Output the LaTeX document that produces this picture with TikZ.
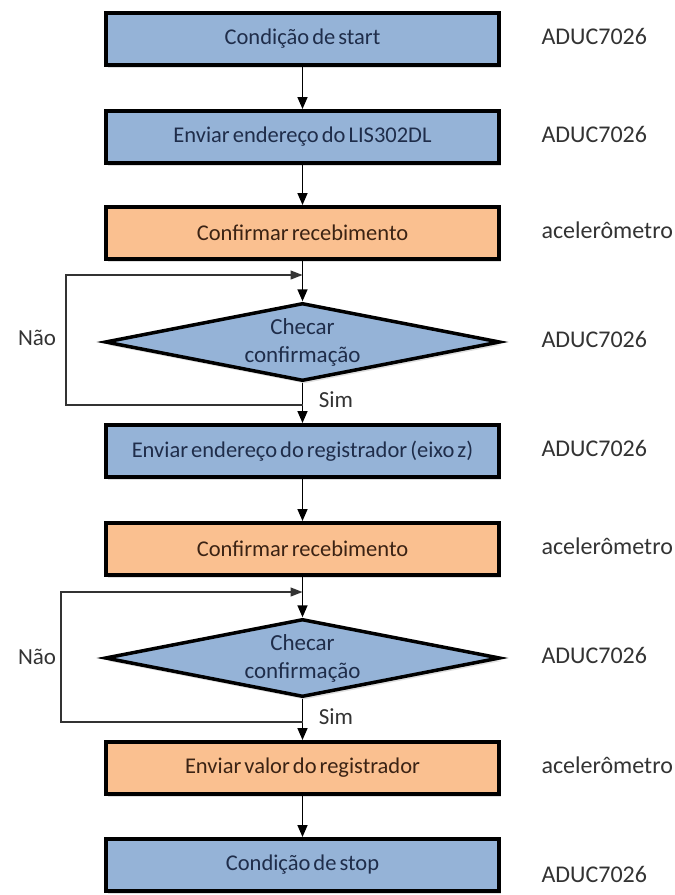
\documentclass[tikz,border=0pt]{standalone}
\usepackage{fontspec}
\setmainfont{Carlito}[WordSpace=0.6]
\usetikzlibrary{shapes.geometric,arrows.meta,shadows}

\definecolor{boxblue}{HTML}{95B3D7}
\definecolor{boxorange}{HTML}{FAC090}
\definecolor{txtblue}{HTML}{1F2D4A}
\definecolor{txtbrown}{HTML}{3B2314}

\tikzset{
  stepbase/.style = {draw=black, line width=4pt, inner sep=0pt,
                     minimum width=393pt, minimum height=52pt,
                     font=\fontsize{22.5}{27}\selectfont,
                     drop shadow={shadow xshift=2pt, shadow yshift=-3pt, opacity=0.25}},
  mcu/.style      = {stepbase, fill=boxblue, text=txtblue},
  accel/.style    = {stepbase, fill=boxorange, text=txtbrown},
  check/.style    = {stepbase, shape=diamond, aspect=5, fill=boxblue, text=txtblue,
                     align=center, line width=3.5pt, font=\fontsize{23}{28}\selectfont,
                     minimum width=395pt, minimum height=78pt},
  who/.style      = {anchor=west, font=\fontsize{24}{28}\selectfont, text=black!80},
  answer/.style   = {font=\fontsize{23}{27}\selectfont, text=black!80},
  flow/.style     = {draw, line width=1.6pt, -{Triangle[length=12pt,width=10pt]}},
  back/.style     = {draw, line width=1.3pt, black!80, -{Triangle[length=12pt,width=9pt]}}
}

\begin{document}
\begin{tikzpicture}[x=1pt,y=-1pt]
\useasboundingbox (0,0) rectangle (675,895);

% passos
\node[mcu]   (start) at (302.5,39)  {Condição de start};
\node[mcu]   (addr)  at (302.5,137) {Enviar endereço do LIS302DL};
\node[accel] (ack1)  at (302.5,233) {Confirmar recebimento};
\node[check] (chk1)  at (302.5,342) {Checar\\confirmação};
\node[mcu]   (reg)   at (302.5,451) {Enviar endereço do registrador (eixo z)};
\node[accel] (ack2)  at (302.5,549) {Confirmar recebimento};
\node[check] (chk2)  at (302.5,658) {Checar\\confirmação};
\node[accel] (val)   at (302.5,768) {Enviar valor do registrador};
\node[mcu]   (stop)  at (302.5,865) {Condição de stop};

% quem executa
\node[who] (who1) at (538,36)  {ADUC7026};
\node[who] (who2) at (538,134) {ADUC7026};
\node[who] (who3) at (538,230) {acelerômetro};
\node[who] (who4) at (538,339) {ADUC7026};
\node[who] (who5) at (538,448) {ADUC7026};
\node[who] (who6) at (538,546) {acelerômetro};
\node[who] (who7) at (538,655) {ADUC7026};
\node[who] (who8) at (538,765) {acelerômetro};
\node[who] (who9) at (538,874) {ADUC7026};

% pontos dos lacos
\coordinate (no1)   at (302.5,405);
\coordinate (back1) at (302.5,275);
\coordinate (no2)   at (302.5,722);
\coordinate (back2) at (302.5,592);

\node[answer] (nao1) at (37,338) {Não};
\node[answer] (sim1) at (336,400) {Sim};
\node[answer] (nao2) at (37,657) {Não};
\node[answer] (sim2) at (336,717) {Sim};

% setas
\draw[flow] (start) -- (addr);
\draw[flow] (addr) -- (ack1);
\draw[flow] (ack1) -- (chk1);
\draw[flow] (chk1) -- (reg);
\draw[flow] (reg) -- (ack2);
\draw[flow] (ack2) -- (chk2);
\draw[flow] (chk2) -- (val);
\draw[flow] (val) -- (stop);

\draw[back] (no1) -- ++(-236.5,0) |- (back1);
\draw[back] (no2) -- ++(-241.5,0) |- (back2);
\end{tikzpicture}
\end{document}
